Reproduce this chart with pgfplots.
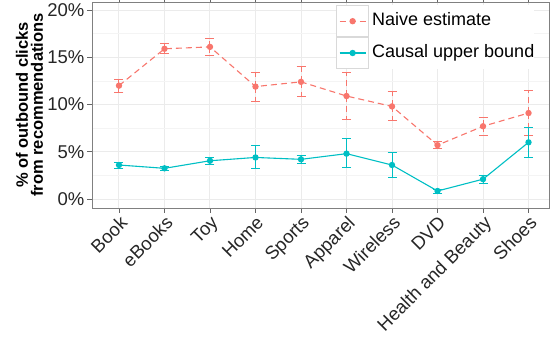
\documentclass[border=0pt]{standalone}
\usepackage{pgfplots}
\pgfplotsset{compat=1.18}
\usepackage{pgfplotstable}
\usepackage{fontspec}
\setmainfont{Liberation Sans}
\definecolor{naive}{HTML}{F8766D}
\definecolor{causal}{HTML}{00BFC4}
\definecolor{gridc}{HTML}{EBEBEB}
\definecolor{gridm}{HTML}{F4F4F4}
\pgfplotstableread{
x y ep em
0 12.0 0.7 0.7
1 15.9 0.6 0.5
2 16.1 0.9 0.9
3 11.9 1.5 1.6
4 12.4 1.6 1.6
5 10.9 2.5 2.5
6 9.8 1.6 1.5
7 5.7 0.4 0.4
8 7.7 0.9 1.0
9 9.1 2.4 2.4
}\naive
\pgfplotstableread{
x y ep em
0 3.6 0.3 0.35
1 3.25 0.15 0.25
2 4.05 0.35 0.35
3 4.4 1.25 1.2
4 4.2 0.4 0.4
5 4.8 1.65 1.5
6 3.6 1.3 1.35
7 0.85 0.2 0.25
8 2.1 0.4 0.5
9 6.0 1.6 1.6
}\causal
\begin{document}
\begin{tikzpicture}
\begin{axis}[
  scale only axis,
  width=457pt, height=206pt,
  xmin=-0.593, xmax=9.45,
  ymin=-0.95, ymax=20.85,
  xtick={0,...,9},
  xticklabels={Book,eBooks,Toy,Home,Sports,Apparel,Wireless,DVD,Health and Beauty,Shoes},
  xticklabel style={rotate=45, anchor=north east, font=\fontsize{18.5}{20}\selectfont, text=black!85, inner sep=1.5pt},
  ytick={0,5,10,15,20},
  yticklabels={0\%,5\%,10\%,15\%,20\%},
  minor ytick={2.5,7.5,12.5,17.5},
  yticklabel style={font=\fontsize{18.5}{20}\selectfont, text=black!85, inner sep=3pt},
  tick align=outside,
  major tick length=4.5pt,
  tick style={black!60, line width=0.6pt},
  minor tick length=0pt,
  xmajorgrids, ymajorgrids, yminorgrids,
  major grid style={gridc, line width=1pt},
  minor grid style={gridm, line width=0.5pt},
  axis line style={black!50, line width=0.8pt},
  ylabel={\% of outbound clicks\\from recommendations},
  ylabel style={align=center, font=\bfseries\fontsize{16.5}{15}\selectfont, inner sep=1pt},
  legend cell align=left,
  legend style={at={(rel axis cs:0.534,0.985)}, anchor=north west, draw=none, fill=white,
    font=\fontsize{18}{20}\selectfont, row sep=0pt, inner sep=0pt,
    nodes={inner sep=0pt, text height=13pt, text depth=3.5pt}},
  legend image code/.code={
    \draw[gray!30, line width=0.8pt, solid, fill=white] (0pt,-15.5pt) rectangle (32pt,15.5pt);
    \draw[mark repeat=2, mark phase=2, #1] plot coordinates {(3pt,0pt) (16pt,0pt) (29pt,0pt)};
    \path (35pt,0pt);
  },
]
\addplot[naive, line width=1.1pt, dash pattern=on 6pt off 4pt, mark=*, mark size=2.6pt, mark options={solid},
  error bars/.cd, y dir=both, y explicit,
  error mark options={rotate=90, mark size=4.5pt, line width=1pt},
  error bar style={line width=1pt, dash pattern=on 6pt off 4pt}]
  table[x=x, y=y, y error plus=ep, y error minus=em] {\naive};
\addlegendentry{Naive estimate}
\addplot[causal, line width=1.1pt, solid, mark=*, mark size=2.6pt,
  error bars/.cd, y dir=both, y explicit,
  error mark options={rotate=90, mark size=4.5pt, line width=1pt},
  error bar style={line width=1pt, solid}]
  table[x=x, y=y, y error plus=ep, y error minus=em] {\causal};
\addlegendentry{Causal upper bound}
\coordinate (bl) at (rel axis cs:0,0);
\end{axis}
\pgfresetboundingbox
\path (bl) ++(-92pt,-133pt) rectangle ++(550pt,341pt);
\end{tikzpicture}
\end{document}
